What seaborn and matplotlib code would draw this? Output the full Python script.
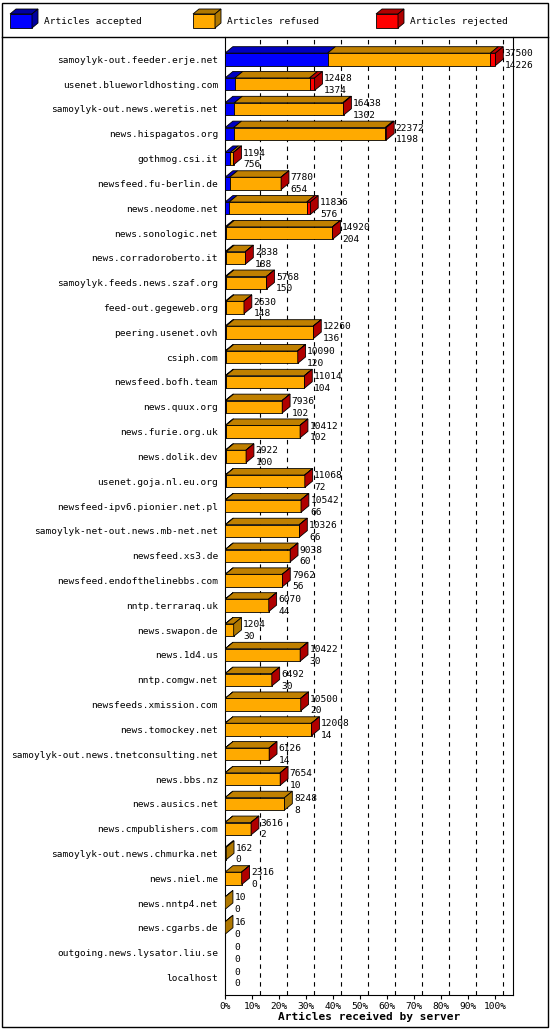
import matplotlib
matplotlib.use("Agg")
import matplotlib.pyplot as plt
import seaborn as sns
import pandas as pd
from matplotlib.patches import Polygon, Rectangle

servers = ["samoylyk-out.feeder.erje.net","usenet.blueworldhosting.com","samoylyk-out.news.weretis.net",
"news.hispagatos.org","gothmog.csi.it","newsfeed.fu-berlin.de","news.neodome.net","news.sonologic.net",
"news.corradoroberto.it","samoylyk.feeds.news.szaf.org","feed-out.gegeweb.org","peering.usenet.ovh",
"csiph.com","newsfeed.bofh.team","news.quux.org","news.furie.org.uk","news.dolik.dev","usenet.goja.nl.eu.org",
"newsfeed-ipv6.pionier.net.pl","samoylyk-net-out.news.mb-net.net","newsfeed.xs3.de","newsfeed.endofthelinebbs.com",
"nntp.terraraq.uk","news.swapon.de","news.1d4.us","nntp.comgw.net","newsfeeds.xmission.com","news.tomockey.net",
"samoylyk-out.news.tnetconsulting.net","news.bbs.nz","news.ausics.net","news.cmpublishers.com",
"samoylyk-out.news.chmurka.net","news.niel.me","news.nntp4.net","news.cgarbs.de","outgoing.news.lysator.liu.se","localhost"]
offered = [37500,12428,16438,22372,1194,7780,11836,14920,2838,5768,2630,12260,10090,11014,7936,10412,2922,11068,
10542,10326,9038,7962,6070,1204,10422,6492,10500,12008,6126,7654,8248,3616,162,2316,10,16,0,0]
accepted = [14226,1374,1302,1198,756,654,576,204,188,150,148,136,120,104,102,102,100,72,66,66,60,56,44,30,30,30,
20,14,14,10,8,2,0,0,0,0,0,0]
rejected = [700,700,100,150,20,20,500,20,20,20,20,20,20,20,20,20,20,20,20,20,20,20,20,0,20,20,20,20,20,20,0,20,
0,20,0,0,0,0]

mx = max(offered)
df = pd.DataFrame({"server": servers,
                   "acc": [a / mx * 100 for a in accepted],
                   "rej": [r / mx * 100 for r in rejected],
                   "tot": [o / mx * 100 for o in offered]})
df["ref"] = df["tot"] - df["acc"] - df["rej"]

plt.rcParams["font.family"] = ["DejaVu Sans Mono"]
FS = 6.8
fig = plt.figure(figsize=(5.5, 10.3), dpi=100)
ax = fig.add_axes([225/550, 1-995/1030, 288/550, (995-37)/1030])
H = 0.5
DX, DY = 2.9, 0.26
sns.barplot(data=df, y="server", x="acc", color="#0000ff", orient="h", width=H, ax=ax,
            edgecolor="black", linewidth=0.6, zorder=3, saturation=1)
ax.barh(range(len(df)), df["ref"], left=df["acc"], height=H, color="#ffaa00",
        edgecolor="black", linewidth=0.6, zorder=3)
ax.barh(range(len(df)), df["rej"], left=df["acc"] + df["ref"], height=H, color="#ff0000",
        edgecolor="black", linewidth=0.6, zorder=3)

tops = {"acc": "#0000c0", "ref": "#c08000", "rej": "#c00000"}
for i, r in df.iterrows():
    y0 = i - H / 2
    x = 0
    for key in ["acc", "ref", "rej"]:
        w = r[key]
        if w > 0:
            ax.add_patch(Polygon([(x, y0), (x + w, y0), (x + w + DX, y0 - DY), (x + DX, y0 - DY)],
                                 closed=True, fc=tops[key], ec="black", lw=0.6, zorder=3))
        x += w
    last = "rej" if r["rej"] > 0 else ("ref" if r["ref"] > 0 else "acc")
    side = {"acc": "#0000a0", "ref": "#b07800", "rej": "#b00000"}[last]
    if r["tot"] > 0:
        ax.add_patch(Polygon([(x, y0), (x + DX, y0 - DY), (x + DX, y0 - DY + H), (x, y0 + H)],
                             closed=True, fc=side, ec="black", lw=0.6, zorder=3))
    tx = x + DX + 0.6
    ax.text(tx, i - 0.22, str(offered[i]), fontsize=FS, va="center", ha="left", zorder=4)
    ax.text(tx, i + 0.25, str(accepted[i]), fontsize=FS, va="center", ha="left", zorder=4)

ax.set_xlim(0, 106.5)
ax.set_ylim(len(df) - 0.3, -0.9)
ticks = list(range(0, 101, 10))
ax.set_xticks(ticks)
ax.set_xticklabels([f"{t}%" for t in ticks], fontsize=FS)
for t in ticks[1:]:
    ax.axvline(t + DX, color="black", ls=(0, (4, 4)), lw=0.8, zorder=1)
ax.set_yticks(range(len(df)))
ax.set_yticklabels(servers, fontsize=FS)
ax.tick_params(axis="y", length=0, pad=5)
ax.tick_params(axis="x", length=3, pad=2)
ax.set_xlabel("Articles received by server", fontsize=8, fontweight="bold", labelpad=1)
ax.set_ylabel("")
ax.spines["top"].set_visible(False)
for s in ["left", "bottom", "right"]:
    ax.spines[s].set_linewidth(0.8)
ax.set_facecolor("white")

fig.add_artist(Rectangle((0.003, 0.003), 0.994, 0.994, transform=fig.transFigure, fill=False, lw=1, ec="black"))
fig.add_artist(plt.Line2D([0.003, 0.997], [1-37/1030, 1-37/1030], transform=fig.transFigure, color="black", lw=1))
items = [("Articles accepted", "#0000ff", "#0000a0", 10), ("Articles refused", "#ffaa00", "#b07800", 193),
         ("Articles rejected", "#ff0000", "#b00000", 376)]
for lab, c, dc, px in items:
    x0, y0 = px / 550, 1 - 28 / 1030
    w, h, dx, dy = 22 / 550, 14 / 1030, 6 / 550, 5 / 1030
    fig.add_artist(Polygon([(x0, y0), (x0 + w, y0), (x0 + w, y0 + h), (x0, y0 + h)], transform=fig.transFigure,
                           fc=c, ec="black", lw=0.6))
    fig.add_artist(Polygon([(x0, y0 + h), (x0 + dx, y0 + h + dy), (x0 + w + dx, y0 + h + dy), (x0 + w, y0 + h)],
                           transform=fig.transFigure, fc=dc, ec="black", lw=0.6))
    fig.add_artist(Polygon([(x0 + w, y0), (x0 + w + dx, y0 + dy), (x0 + w + dx, y0 + h + dy), (x0 + w, y0 + h)],
                           transform=fig.transFigure, fc=dc, ec="black", lw=0.6))
    fig.text(x0 + w + dx + 6 / 550, y0 + h / 2, lab, fontsize=FS, va="center")

fig.savefig("out.png", dpi=100, facecolor="white")
